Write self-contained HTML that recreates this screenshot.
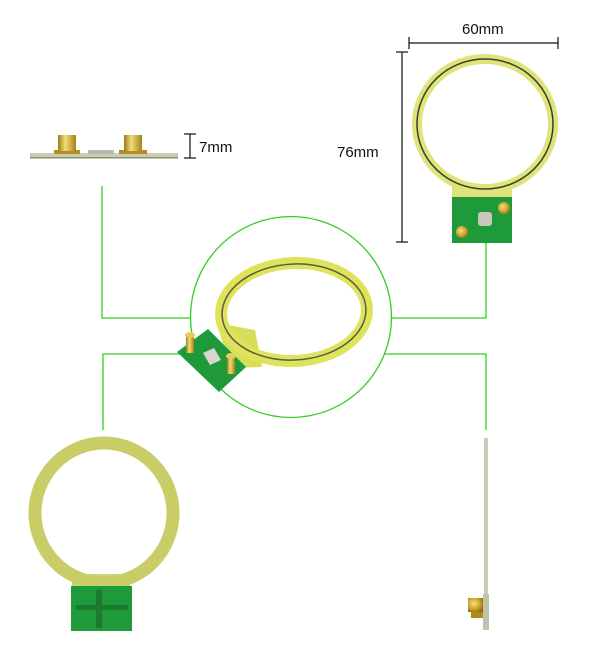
<!DOCTYPE html>
<html><head><meta charset="utf-8"><style>
html,body{margin:0;padding:0;background:#fff;}
svg{display:block;}
text{font-family:"Liberation Sans",Arial,sans-serif;fill:#111;}
</style></head><body>
<svg width="600" height="645" viewBox="0 0 600 645" xmlns="http://www.w3.org/2000/svg">
<defs>
<radialGradient id="gold" cx="0.4" cy="0.4" r="0.7"><stop offset="0" stop-color="#f6e27a"/><stop offset="0.6" stop-color="#c9a02a"/><stop offset="1" stop-color="#8a6a10"/></radialGradient>
<linearGradient id="goldv" x1="0" x2="1"><stop offset="0" stop-color="#9a7a18"/><stop offset="0.4" stop-color="#f3dc76"/><stop offset="1" stop-color="#a58218"/></linearGradient>
</defs>

<!-- connectors green -->
<g stroke="#33cc22" stroke-width="1.3" fill="none">
<circle cx="291" cy="317" r="100.5"/>
<polyline points="102,186 102,318 190,318"/>
<polyline points="182,354 103,354 103,430"/>
<polyline points="392,318 486,318 486,243"/>
<polyline points="385,354 486,354 486,430"/>
</g>

<!-- top-left side view -->
<rect x="30" y="153" width="148" height="5" fill="#c8cdb0"/>
<rect x="30" y="157" width="148" height="1.5" fill="#8b9270"/>
<rect x="88" y="150" width="26" height="4" fill="#b8bcb0"/>
<rect x="54" y="150" width="26" height="4" fill="#b48c20"/>
<rect x="119" y="150" width="28" height="4" fill="#b48c20"/>
<rect x="58" y="135" width="18" height="16" fill="url(#goldv)"/>
<rect x="124" y="135" width="18" height="16" fill="url(#goldv)"/>
<g stroke="#111" stroke-width="1.2">
<line x1="190" y1="134" x2="190" y2="158"/><line x1="184" y1="134" x2="196" y2="134"/><line x1="184" y1="158" x2="196" y2="158"/>
</g>
<text x="199" y="152" font-size="15">7mm</text>

<!-- top-right front view -->
<g stroke="#111" stroke-width="1.2">
<line x1="409" y1="43" x2="558" y2="43"/><line x1="409" y1="37" x2="409" y2="49"/><line x1="558" y1="37" x2="558" y2="49"/>
<line x1="402" y1="52" x2="402" y2="242"/><line x1="396" y1="52" x2="408" y2="52"/><line x1="396" y1="242" x2="408" y2="242"/>
</g>
<text x="462" y="34" font-size="15">60mm</text>
<text x="337" y="157" font-size="15">76mm</text>
<rect x="452" y="186" width="60" height="14" fill="#dfe27a"/>
<ellipse cx="485" cy="124" rx="68" ry="65" fill="none" stroke="#dfe47a" stroke-width="10"/>
<ellipse cx="485" cy="124" rx="68" ry="65" fill="none" stroke="#3a3d30" stroke-width="1.5"/>
<rect x="452" y="197" width="60" height="46" fill="#1f9a3a"/>
<rect x="478" y="212" width="14" height="14" rx="3" fill="#c8c8c0"/>
<circle cx="462" cy="232" r="6" fill="url(#gold)"/>
<circle cx="504" cy="208" r="6" fill="url(#gold)"/>

<!-- middle tilted -->
<polygon points="217,323 255,330 262,367 230,368" fill="#d8de5c"/>
<ellipse cx="294" cy="312" rx="73" ry="49" fill="none" stroke="#dfe35a" stroke-width="12" transform="rotate(-3 294 312)"/>
<ellipse cx="294" cy="312" rx="72" ry="48" fill="none" stroke="#5a5d48" stroke-width="1.5" transform="rotate(-3 294 312)"/>
<polygon points="177,352 208,329 246,367 219,392" fill="#1e9a38"/>
<polygon points="203,353 214,348 221,360 210,365" fill="#d8d4d0"/>
<rect x="186" y="335" width="8" height="18" fill="url(#goldv)"/>
<ellipse cx="190" cy="335" rx="5" ry="3" fill="#e6cf60"/>
<rect x="227" y="356" width="8" height="18" fill="url(#goldv)"/>
<ellipse cx="231" cy="356" rx="5" ry="3" fill="#e6cf60"/>

<!-- bottom-left front back view -->
<rect x="72" y="574" width="58" height="14" fill="#d0d27a"/>
<ellipse cx="104" cy="513" rx="69" ry="70" fill="none" stroke="#c9cd68" stroke-width="13"/>
<rect x="71" y="586" width="61" height="45" fill="#1f9a3a"/>
<rect x="96" y="590" width="6" height="38" fill="#197a30"/>
<rect x="76" y="605" width="52" height="5" fill="#197a30"/>

<!-- bottom-right side view -->
<rect x="484" y="438" width="4" height="192" fill="#c9cdb4"/>
<rect x="483" y="594" width="6" height="36" fill="#bfc3aa"/>
<rect x="468" y="598" width="15" height="14" fill="url(#gold)"/>
<rect x="471" y="612" width="12" height="6" fill="#b08a20"/>
</svg>
</body></html>
